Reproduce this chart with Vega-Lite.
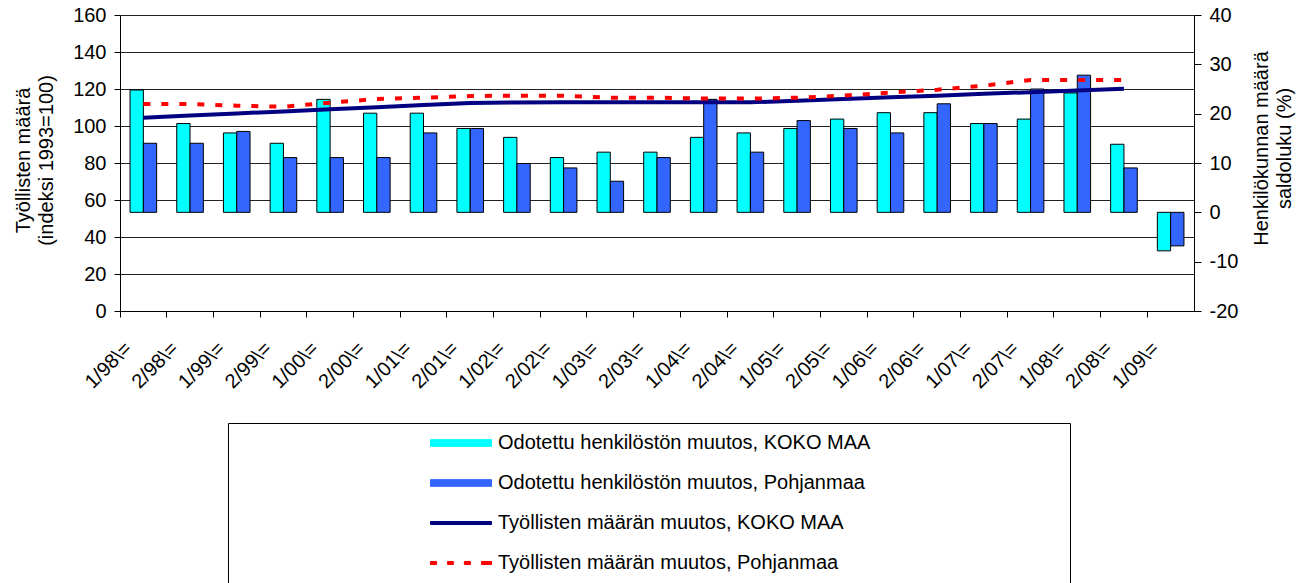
{
  "$schema": "https://vega.github.io/schema/vega-lite/v6.json",
  "width": 1074,
  "height": 296,
  "autosize": {"type": "none"},
  "padding": {"left": 120, "top": 15, "right": 117, "bottom": 272},
  "background": "white",
  "datasets": {
    "bars": [
      {"period": "1/98\\=", "series": "Odotettu henkilöstön muutos, KOKO MAA", "value": 24.8},
      {"period": "1/98\\=", "series": "Odotettu henkilöstön muutos, Pohjanmaa", "value": 14.0},
      {"period": "2/98\\=", "series": "Odotettu henkilöstön muutos, KOKO MAA", "value": 18.0},
      {"period": "2/98\\=", "series": "Odotettu henkilöstön muutos, Pohjanmaa", "value": 14.0},
      {"period": "1/99\\=", "series": "Odotettu henkilöstön muutos, KOKO MAA", "value": 16.1},
      {"period": "1/99\\=", "series": "Odotettu henkilöstön muutos, Pohjanmaa", "value": 16.4},
      {"period": "2/99\\=", "series": "Odotettu henkilöstön muutos, KOKO MAA", "value": 14.0},
      {"period": "2/99\\=", "series": "Odotettu henkilöstön muutos, Pohjanmaa", "value": 11.1},
      {"period": "1/00\\=", "series": "Odotettu henkilöstön muutos, KOKO MAA", "value": 22.9},
      {"period": "1/00\\=", "series": "Odotettu henkilöstön muutos, Pohjanmaa", "value": 11.1},
      {"period": "2/00\\=", "series": "Odotettu henkilöstön muutos, KOKO MAA", "value": 20.1},
      {"period": "2/00\\=", "series": "Odotettu henkilöstön muutos, Pohjanmaa", "value": 11.1},
      {"period": "1/01\\=", "series": "Odotettu henkilöstön muutos, KOKO MAA", "value": 20.1},
      {"period": "1/01\\=", "series": "Odotettu henkilöstön muutos, Pohjanmaa", "value": 16.1},
      {"period": "2/01\\=", "series": "Odotettu henkilöstön muutos, KOKO MAA", "value": 17.0},
      {"period": "2/01\\=", "series": "Odotettu henkilöstön muutos, Pohjanmaa", "value": 17.0},
      {"period": "1/02\\=", "series": "Odotettu henkilöstön muutos, KOKO MAA", "value": 15.2},
      {"period": "1/02\\=", "series": "Odotettu henkilöstön muutos, Pohjanmaa", "value": 9.9},
      {"period": "2/02\\=", "series": "Odotettu henkilöstön muutos, KOKO MAA", "value": 11.1},
      {"period": "2/02\\=", "series": "Odotettu henkilöstön muutos, Pohjanmaa", "value": 9.0},
      {"period": "1/03\\=", "series": "Odotettu henkilöstön muutos, KOKO MAA", "value": 12.2},
      {"period": "1/03\\=", "series": "Odotettu henkilöstön muutos, Pohjanmaa", "value": 6.3},
      {"period": "2/03\\=", "series": "Odotettu henkilöstön muutos, KOKO MAA", "value": 12.2},
      {"period": "2/03\\=", "series": "Odotettu henkilöstön muutos, Pohjanmaa", "value": 11.1},
      {"period": "1/04\\=", "series": "Odotettu henkilöstön muutos, KOKO MAA", "value": 15.2},
      {"period": "1/04\\=", "series": "Odotettu henkilöstön muutos, Pohjanmaa", "value": 22.9},
      {"period": "2/04\\=", "series": "Odotettu henkilöstön muutos, KOKO MAA", "value": 16.1},
      {"period": "2/04\\=", "series": "Odotettu henkilöstön muutos, Pohjanmaa", "value": 12.2},
      {"period": "1/05\\=", "series": "Odotettu henkilöstön muutos, KOKO MAA", "value": 17.0},
      {"period": "1/05\\=", "series": "Odotettu henkilöstön muutos, Pohjanmaa", "value": 18.6},
      {"period": "2/05\\=", "series": "Odotettu henkilöstön muutos, KOKO MAA", "value": 18.9},
      {"period": "2/05\\=", "series": "Odotettu henkilöstön muutos, Pohjanmaa", "value": 17.0},
      {"period": "1/06\\=", "series": "Odotettu henkilöstön muutos, KOKO MAA", "value": 20.2},
      {"period": "1/06\\=", "series": "Odotettu henkilöstön muutos, Pohjanmaa", "value": 16.1},
      {"period": "2/06\\=", "series": "Odotettu henkilöstön muutos, KOKO MAA", "value": 20.2},
      {"period": "2/06\\=", "series": "Odotettu henkilöstön muutos, Pohjanmaa", "value": 22.0},
      {"period": "1/07\\=", "series": "Odotettu henkilöstön muutos, KOKO MAA", "value": 18.0},
      {"period": "1/07\\=", "series": "Odotettu henkilöstön muutos, Pohjanmaa", "value": 18.0},
      {"period": "2/07\\=", "series": "Odotettu henkilöstön muutos, KOKO MAA", "value": 18.9},
      {"period": "2/07\\=", "series": "Odotettu henkilöstön muutos, Pohjanmaa", "value": 25.0},
      {"period": "1/08\\=", "series": "Odotettu henkilöstön muutos, KOKO MAA", "value": 24.2},
      {"period": "1/08\\=", "series": "Odotettu henkilöstön muutos, Pohjanmaa", "value": 27.8},
      {"period": "2/08\\=", "series": "Odotettu henkilöstön muutos, KOKO MAA", "value": 13.8},
      {"period": "2/08\\=", "series": "Odotettu henkilöstön muutos, Pohjanmaa", "value": 9.0},
      {"period": "1/09\\=", "series": "Odotettu henkilöstön muutos, KOKO MAA", "value": -7.8},
      {"period": "1/09\\=", "series": "Odotettu henkilöstön muutos, Pohjanmaa", "value": -6.8}
    ],
    "lines": [
      {"period": "1/98\\=", "series": "Työllisten määrän muutos, KOKO MAA", "value": 104.5},
      {"period": "2/98\\=", "series": "Työllisten määrän muutos, KOKO MAA", "value": 105.7},
      {"period": "1/99\\=", "series": "Työllisten määrän muutos, KOKO MAA", "value": 106.8},
      {"period": "2/99\\=", "series": "Työllisten määrän muutos, KOKO MAA", "value": 107.9},
      {"period": "1/00\\=", "series": "Työllisten määrän muutos, KOKO MAA", "value": 109.0},
      {"period": "2/00\\=", "series": "Työllisten määrän muutos, KOKO MAA", "value": 110.2},
      {"period": "1/01\\=", "series": "Työllisten määrän muutos, KOKO MAA", "value": 111.3},
      {"period": "2/01\\=", "series": "Työllisten määrän muutos, KOKO MAA", "value": 112.4},
      {"period": "1/02\\=", "series": "Työllisten määrän muutos, KOKO MAA", "value": 112.7},
      {"period": "2/02\\=", "series": "Työllisten määrän muutos, KOKO MAA", "value": 112.8},
      {"period": "1/03\\=", "series": "Työllisten määrän muutos, KOKO MAA", "value": 112.8},
      {"period": "2/03\\=", "series": "Työllisten määrän muutos, KOKO MAA", "value": 112.8},
      {"period": "1/04\\=", "series": "Työllisten määrän muutos, KOKO MAA", "value": 112.8},
      {"period": "2/04\\=", "series": "Työllisten määrän muutos, KOKO MAA", "value": 112.8},
      {"period": "1/05\\=", "series": "Työllisten määrän muutos, KOKO MAA", "value": 113.7},
      {"period": "2/05\\=", "series": "Työllisten määrän muutos, KOKO MAA", "value": 114.6},
      {"period": "1/06\\=", "series": "Työllisten määrän muutos, KOKO MAA", "value": 115.5},
      {"period": "2/06\\=", "series": "Työllisten määrän muutos, KOKO MAA", "value": 116.4},
      {"period": "1/07\\=", "series": "Työllisten määrän muutos, KOKO MAA", "value": 117.4},
      {"period": "2/07\\=", "series": "Työllisten määrän muutos, KOKO MAA", "value": 118.3},
      {"period": "1/08\\=", "series": "Työllisten määrän muutos, KOKO MAA", "value": 119.2},
      {"period": "2/08\\=", "series": "Työllisten määrän muutos, KOKO MAA", "value": 120.1},
      {"period": "1/98\\=", "series": "Työllisten määrän muutos, Pohjanmaa", "value": 111.9},
      {"period": "2/98\\=", "series": "Työllisten määrän muutos, Pohjanmaa", "value": 111.9},
      {"period": "1/99\\=", "series": "Työllisten määrän muutos, Pohjanmaa", "value": 111.0},
      {"period": "2/99\\=", "series": "Työllisten määrän muutos, Pohjanmaa", "value": 110.4},
      {"period": "1/00\\=", "series": "Työllisten määrän muutos, Pohjanmaa", "value": 112.6},
      {"period": "2/00\\=", "series": "Työllisten määrän muutos, Pohjanmaa", "value": 114.6},
      {"period": "1/01\\=", "series": "Työllisten määrän muutos, Pohjanmaa", "value": 115.3},
      {"period": "2/01\\=", "series": "Työllisten määrän muutos, Pohjanmaa", "value": 116.2},
      {"period": "1/02\\=", "series": "Työllisten määrän muutos, Pohjanmaa", "value": 116.4},
      {"period": "2/02\\=", "series": "Työllisten määrän muutos, Pohjanmaa", "value": 116.4},
      {"period": "1/03\\=", "series": "Työllisten määrän muutos, Pohjanmaa", "value": 115.3},
      {"period": "2/03\\=", "series": "Työllisten määrän muutos, Pohjanmaa", "value": 115.3},
      {"period": "1/04\\=", "series": "Työllisten määrän muutos, Pohjanmaa", "value": 114.8},
      {"period": "2/04\\=", "series": "Työllisten määrän muutos, Pohjanmaa", "value": 114.8},
      {"period": "1/05\\=", "series": "Työllisten määrän muutos, Pohjanmaa", "value": 115.3},
      {"period": "2/05\\=", "series": "Työllisten määrän muutos, Pohjanmaa", "value": 116.4},
      {"period": "1/06\\=", "series": "Työllisten määrän muutos, Pohjanmaa", "value": 118.1},
      {"period": "2/06\\=", "series": "Työllisten määrän muutos, Pohjanmaa", "value": 119.6},
      {"period": "1/07\\=", "series": "Työllisten määrän muutos, Pohjanmaa", "value": 121.8},
      {"period": "2/07\\=", "series": "Työllisten määrän muutos, Pohjanmaa", "value": 124.9},
      {"period": "1/08\\=", "series": "Työllisten määrän muutos, Pohjanmaa", "value": 124.9},
      {"period": "2/08\\=", "series": "Työllisten määrän muutos, Pohjanmaa", "value": 124.9}
    ]
  },
  "layer": [
    {
      "data": {"name": "bars"},
      "encoding": {
        "x": {
          "field": "period", "type": "nominal", "sort": null,
          "scale": {
            "domain": ["1/98\\=", "2/98\\=", "1/99\\=", "2/99\\=", "1/00\\=", "2/00\\=", "1/01\\=", "2/01\\=", "1/02\\=", "2/02\\=", "1/03\\=", "2/03\\=", "1/04\\=", "2/04\\=", "1/05\\=", "2/05\\=", "1/06\\=", "2/06\\=", "1/07\\=", "2/07\\=", "1/08\\=", "2/08\\=", "1/09\\="],
            "paddingInner": 0, "paddingOuter": 0
          },
          "axis": {"title": null, "labelAngle": -45, "bandPosition": 0, "labelOffset": -22, "tickSize": 6, "labelPadding": 21, "labelOverlap": false, "grid": false}
        },
        "xOffset": {
          "field": "series", "type": "nominal", "sort": null,
          "scale": {"domain": ["Odotettu henkilöstön muutos, KOKO MAA", "Odotettu henkilöstön muutos, Pohjanmaa"], "paddingInner": 0, "paddingOuter": 0.755}
        },
        "y": {
          "field": "value", "type": "quantitative",
          "scale": {"domain": [-20, 40], "nice": false, "zero": true},
          "axis": {"orient": "right", "title": ["Henkilökunnan määrä", "saldoluku (%)"], "values": [-20, -10, 0, 10, 20, 30, 40], "labelExpr": "datum.value < 0 ? '-' + abs(datum.value) : datum.label", "grid": false, "tickSize": 7, "labelPadding": 8, "titleAngle": 270, "titlePadding": 11, "titleY": 133}
        }
      },
      "layer": [
        {
          "mark": {"type": "bar", "stroke": "black", "strokeWidth": 1},
          "encoding": {
            "color": {
              "field": "series", "type": "nominal",
              "scale": {
                "domain": ["Odotettu henkilöstön muutos, KOKO MAA", "Odotettu henkilöstön muutos, Pohjanmaa", "Työllisten määrän muutos, KOKO MAA", "Työllisten määrän muutos, Pohjanmaa"],
                "range": ["#00FFFF", "#3366FF", "#000080", "#FF0000"]
              },
              "legend": {
                "title": " ", "titleOrient": "right", "titlePadding": 191,
                "orient": "none", "legendX": 108, "legendY": 408, "direction": "vertical",
                "padding": 9, "strokeColor": "black", "fillColor": "white",
                "symbolSize": 3721, "symbolOffset": 193, "labelOffset": 6, "rowPadding": 18, "clipHeight": 22,
                "labelFont": "Liberation Sans", "labelFontSize": 20, "labelColor": "black", "labelLimit": 0,
                "symbolOpacity": 1, "symbolStrokeWidth": 1,
                "symbolType": {"expr": "indexof(datum.value, 'Odotettu') == 0 ? 'M-1,-0.11H1V0.11H-1Z' : (datum.value == 'Työllisten määrän muutos, KOKO MAA' ? 'M-1,-0.05H1V0.05H-1Z' : 'M-1,-0.05H-0.8V0.05H-1Z M-0.44,-0.05H-0.25V0.05H-0.44Z M0.11,-0.05H0.31V0.05H0.11Z M0.67,-0.05H1V0.05H0.67Z')"},
                "symbolStrokeColor": {"expr": "indexof(datum.value, 'Odotettu') == 0 ? 'black' : (datum.value == 'Työllisten määrän muutos, KOKO MAA' ? '#000080' : '#FF0000')"},
                "encoding": {
                  "symbols": {
                    "stroke": {"value": {"expr": "indexof(datum.value, 'Odotettu') == 0 ? 'black' : (datum.value == 'Työllisten määrän muutos, KOKO MAA' ? '#000080' : '#FF0000')"}},
                    "strokeWidth": {"value": 1}
                  }
                }
              }
            }
          }
        }
      ]
    },
    {
      "data": {"name": "lines"},
      "encoding": {
        "x": {
          "field": "period", "type": "nominal", "sort": null,
          "axis": {"title": null, "labelAngle": -45, "bandPosition": 0, "labelOffset": -22, "tickSize": 6, "labelPadding": 21, "labelOverlap": false, "grid": false}
        },
        "y": {
          "field": "value", "type": "quantitative",
          "scale": {"domain": [0, 160], "nice": false},
          "axis": {"orient": "left", "title": ["Työllisten määrä", "(indeksi 1993=100)"], "values": [0, 20, 40, 60, 80, 100, 120, 140, 160], "grid": true, "gridColor": "#222222", "tickSize": 6, "labelPadding": 8, "titlePadding": 16, "titleY": 145}
        },
        "color": {"field": "series", "type": "nominal", "legend": null}
      },
      "layer": [
        {
          "transform": [{"filter": "datum.series == 'Työllisten määrän muutos, KOKO MAA'"}],
          "mark": {"type": "line", "strokeWidth": 4}
        },
        {
          "transform": [{"filter": "datum.series == 'Työllisten määrän muutos, Pohjanmaa'"}],
          "mark": {"type": "line", "strokeWidth": 4, "strokeDash": [7, 11]}
        }
      ]
    }
  ],
  "resolve": {"scale": {"y": "independent"}, "axis": {"y": "independent"}},
  "config": {
    "view": {"stroke": null},
    "font": "Liberation Sans",
    "axis": {
      "labelFont": "Liberation Sans", "labelFontSize": 20, "labelColor": "black",
      "titleFont": "Liberation Sans", "titleFontSize": 20, "titleFontWeight": "normal", "titleColor": "black",
      "titleLineHeight": 23,
      "domainColor": "black", "tickColor": "black", "gridOpacity": 1
    }
  }
}
